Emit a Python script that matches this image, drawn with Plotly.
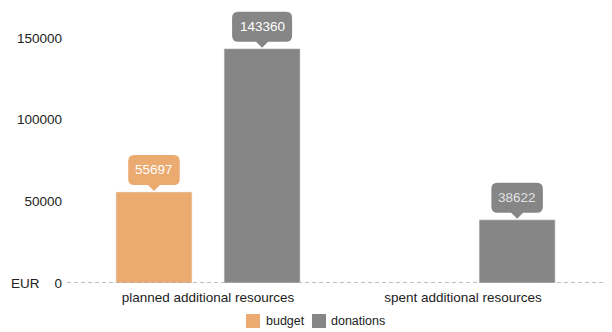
# budget vs donations bar chart with callout labels

import plotly.graph_objects as go

categories = ['planned additional resources', 'spent additional resources']
series_names = ['budget', 'donations']
budget = [55697, None]
donations = [143360, 38622]
y_ticks = [0, 50000, 100000, 150000]

orange = '#EBAA6F'
grey = '#868686'
font = 'Liberation Sans, Arial, sans-serif'

W, H = 604, 324
M = dict(l=59, r=0, t=2, b=49)

# bar geometry in category units
bar_w = 0.298
offsets = {'budget': -0.361, 'donations': 0.063}

fig = go.Figure()
fig.add_trace(go.Bar(x=categories, y=budget, name='budget', marker_color=orange,
                     width=bar_w, offset=offsets['budget'], showlegend=False))
fig.add_trace(go.Bar(x=categories, y=donations, name='donations', marker_color=grey,
                     width=bar_w, offset=offsets['donations'], showlegend=False))


def add_callout(i, val, off, color, txtcolor='white'):
    cx = i + off + bar_w / 2
    w = (8.5 * len(str(val)) + 9) / 2
    b, t, r, p = 7, 37, 6, 6
    path = (f'M 0,1 L {-p},{b} L {-w + r},{b} Q {-w},{b} {-w},{b + r} '
            f'L {-w},{t - r} Q {-w},{t} {-w + r},{t} L {w - r},{t} '
            f'Q {w},{t} {w},{t - r} L {w},{b + r} Q {w},{b} {w - r},{b} L {p},{b} Z')
    fig.add_shape(type='path', xref='x', yref='y', xsizemode='pixel', ysizemode='pixel',
                  xanchor=cx, yanchor=val, path=path, fillcolor=color,
                  line=dict(width=0))
    fig.add_annotation(x=cx, y=val, xref='x', yref='y', text=str(val), showarrow=False,
                       yshift=22, yanchor='middle',
                       font=dict(family=font, size=13.5, color=txtcolor))


for i, v in enumerate(budget):
    if v is not None:
        add_callout(i, v, offsets['budget'], orange)
for i, v in enumerate(donations):
    if v is not None:
        add_callout(i, v, offsets['donations'], grey, 'white' if i == 0 else '#e2e2e2')

# dashed zero line
fig.add_shape(type='line', xref='paper', x0=0, x1=1, yref='y', y0=0, y1=0,
              line=dict(color='#a8a8a8', width=1.5, dash='4px,3px'))

fig.add_annotation(text='EUR', xref='paper', x=0, xshift=-25, xanchor='right',
                   yref='y', y=0, yanchor='middle', showarrow=False,
                   font=dict(family=font, size=13.5, color='#222'))

# hand made legend (pixel positions in figure space)
pw = W - M['l'] - M['r']
ph = H - M['t'] - M['b']


def px_x(v):
    return (v - M['l']) / pw


def px_y(v):
    return (H - M['b'] - v) / ph


legend_pos = [(238, 256), (304, 321)]  # swatch left, text left
for name, color, (sx, tx) in zip(series_names, [orange, grey], legend_pos):
    fig.add_shape(type='rect', xref='paper', yref='paper',
                  x0=px_x(sx), x1=px_x(sx + 14), y0=px_y(320), y1=px_y(306),
                  fillcolor=color, line=dict(width=0))
    fig.add_annotation(text=name, xref='paper', yref='paper', x=px_x(tx), y=px_y(313),
                       xanchor='left', yanchor='middle', showarrow=False,
                       font=dict(family=font, size=12.5, color='#222'))

fig.update_layout(
    width=W, height=H,
    margin=M,
    plot_bgcolor='white', paper_bgcolor='white',
    font=dict(family=font, size=13.5, color='#222'),
    barmode='group',
)
fig.update_xaxes(range=[-0.553, 1.584], showgrid=False, showline=False, zeroline=False,
                 ticks='', ticklabelstandoff=4, tickfont=dict(size=13.5))
fig.update_yaxes(range=[0, 167000], tickvals=y_ticks, tickformat='d', showgrid=False,
                 showline=False, zeroline=False, ticklabelstandoff=4,
                 tickfont=dict(size=13.5))

fig.write_html('out.html')
